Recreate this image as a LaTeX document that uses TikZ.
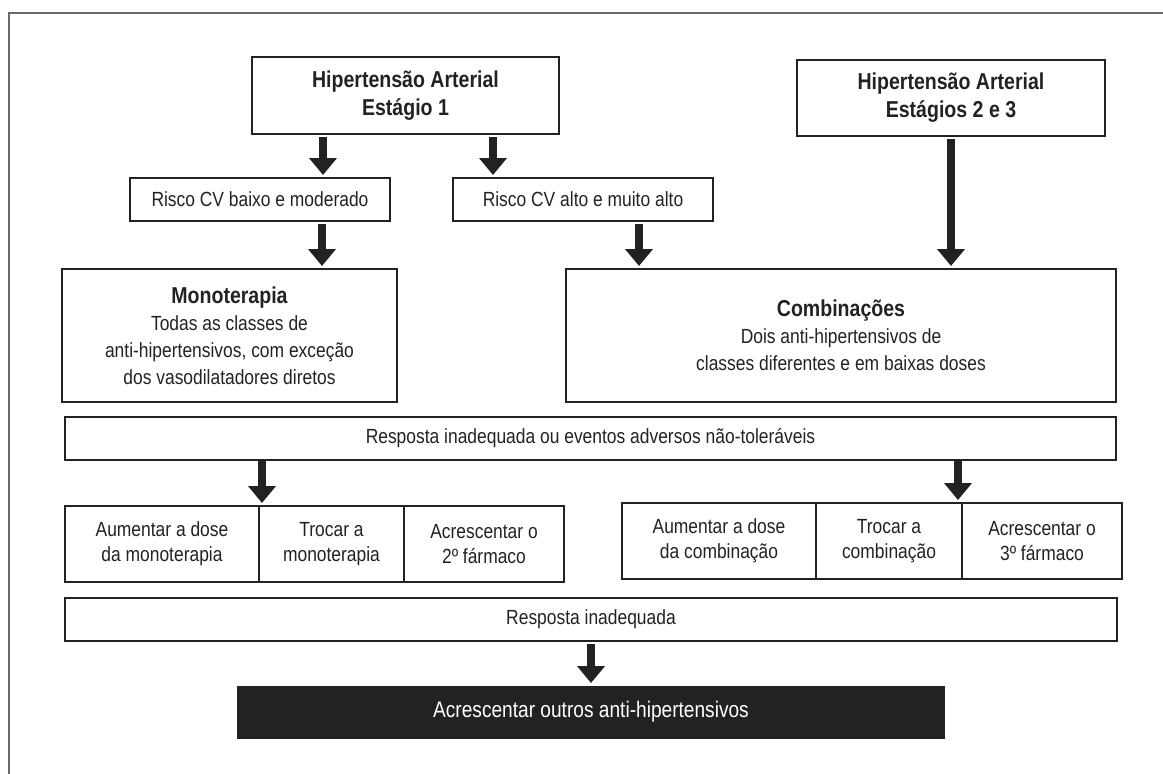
\documentclass[tikz,border=0pt]{standalone}
\usepackage{fontspec}
\setmainfont{Liberation Sans}[FakeStretch=0.85]
\usetikzlibrary{arrows.meta, positioning}
\definecolor{inkgray}{HTML}{222222}
\definecolor{framegray}{HTML}{6A6A6A}
\newcommand{\boxtitle}[1]{{\fontsize{23}{28}\selectfont\bfseries #1}}
\tikzset{
    >=Latex,
    font=\fontsize{20.5}{26}\selectfont,
    flux_stage/.style={
        rectangle,
        draw=inkgray,
        text=inkgray,
        line width=2.5pt,
        minimum width=307pt,
        minimum height=77pt,
        inner sep=0pt,
        outer sep=0pt,
        align=center,
        font=\fontsize{23}{28}\selectfont\bfseries
    },
    flux_risk/.style={
        rectangle,
        draw=inkgray,
        text=inkgray,
        line width=2.5pt,
        minimum width=260pt,
        minimum height=43pt,
        inner sep=0pt,
        outer sep=0pt,
        align=center
    },
    flux_therapy/.style={
        rectangle,
        draw=inkgray,
        text=inkgray,
        line width=2.5pt,
        minimum height=133pt,
        inner sep=0pt,
        outer sep=0pt,
        align=center,
        font=\fontsize{20.5}{27}\selectfont
    },
    flux_wide/.style={
        rectangle,
        draw=inkgray,
        text=inkgray,
        line width=2.5pt,
        minimum width=1051pt,
        minimum height=43pt,
        inner sep=0pt,
        outer sep=0pt,
        align=center
    },
    flux_cell/.style={
        rectangle,
        draw=inkgray,
        text=inkgray,
        line width=2.5pt,
        minimum height=76pt,
        inner sep=0pt,
        outer sep=0pt,
        align=center,
        font=\fontsize{20.5}{25}\selectfont
    },
    flux_final/.style={
        rectangle,
        draw=inkgray,
        fill=inkgray,
        text=white,
        line width=1pt,
        minimum width=707pt,
        minimum height=52pt,
        inner sep=0pt,
        outer sep=0pt,
        align=center,
        font=\fontsize{22.5}{27}\selectfont
    },
    flux_arrow/.style={
        -{Triangle[width=27pt, length=17pt]},
        draw=inkgray,
        line width=8.5pt,
        shorten <=3pt,
        shorten >=3pt
    }
}

\begin{document}
\begin{tikzpicture}[x=1pt, y=1pt]
\useasboundingbox (0,0) rectangle (1163,-774);

% --- Frame ---
\draw[draw=framegray, line width=2pt] (9,-774) -- (9,-13) -- (1163,-13);

% --- Stages and risk levels ---
\node[flux_stage] (Stage1) at (405.5,-95.5) {Hipertensão Arterial\\Estágio 1};
\node[flux_risk, below=44pt of Stage1, xshift=-145.5pt] (RiskLow) {Risco CV baixo e moderado};
\node[flux_risk, right=63pt of RiskLow] (RiskHigh) {Risco CV alto e muito alto};

% --- Initial therapy ---
\node[flux_therapy, minimum width=335pt, below=48pt of RiskLow, xshift=-30.5pt] (Mono)
  {\boxtitle{Monoterapia}\\Todas as classes de\\anti-hipertensivos, com exceção\\dos vasodilatadores diretos};
\node[flux_therapy, minimum width=550pt, below=48pt of RiskHigh, xshift=258pt] (Combo)
  {\boxtitle{Combinações}\\Dois anti-hipertensivos de\\classes diferentes e em baixas doses};
\node[flux_stage, minimum width=308pt, minimum height=76pt, above=133pt of Combo, xshift=110pt] (Stage23)
  {Hipertensão Arterial\\Estágios 2 e 3};

% --- Response and options ---
\node[flux_wide, below=15pt of Mono, xshift=361pt] (Resp1) {Resposta inadequada ou eventos adversos não-toleráveis};

\node[flux_cell, minimum width=194pt, below=46pt of Resp1, xshift=-428.5pt] (MonoDose) {Aumentar a dose\\da monoterapia};
\node[flux_cell, minimum width=145pt, right=0pt of MonoDose] (MonoSwap) {Trocar a\\monoterapia};
\node[flux_cell, minimum width=160pt, right=0pt of MonoSwap] (MonoAdd) {Acrescentar o\\2º fármaco};

\node[flux_cell, minimum width=194pt, below=43pt of Resp1, xshift=128.5pt] (ComboDose) {Aumentar a dose\\da combinação};
\node[flux_cell, minimum width=146pt, right=0pt of ComboDose] (ComboSwap) {Trocar a\\combinação};
\node[flux_cell, minimum width=160pt, right=0pt of ComboSwap] (ComboAdd) {Acrescentar o\\3º fármaco};

\node[flux_wide, minimum width=1052pt, below=16pt of MonoDose, xshift=429pt] (Resp2) {Resposta inadequada};
\node[flux_final, below=45pt of Resp2] (Extra) {Acrescentar outros anti-hipertensivos};

% --- Arrow anchors ---
\coordinate (aLow) at ([xshift=71pt]Stage1.south west);
\coordinate (aHigh) at ([xshift=241pt]Stage1.south west);
\coordinate (aMono) at ([xshift=192pt]RiskLow.south west);
\coordinate (aCombo) at ([xshift=186pt]RiskHigh.south west);
\coordinate (aLeft) at ([xshift=197pt]Resp1.south west);
\coordinate (aRight) at ([xshift=893pt]Resp1.south west);

% --- Arrows ---
\draw[flux_arrow] (aLow) -- (aLow |- RiskLow.north);
\draw[flux_arrow] (aHigh) -- (aHigh |- RiskHigh.north);
\draw[flux_arrow] (aMono) -- (aMono |- Mono.north);
\draw[flux_arrow] (aCombo) -- (aCombo |- Combo.north);
\draw[flux_arrow] (Stage23.south) -- (Stage23.south |- Combo.north);
\draw[flux_arrow, shorten <=1pt] (aLeft) -- (aLeft |- MonoDose.north);
\draw[flux_arrow, shorten <=1pt] (aRight) -- (aRight |- ComboDose.north);
\draw[flux_arrow] (Resp2.south) -- (Resp2.south |- Extra.north);

\end{tikzpicture}
\end{document}
